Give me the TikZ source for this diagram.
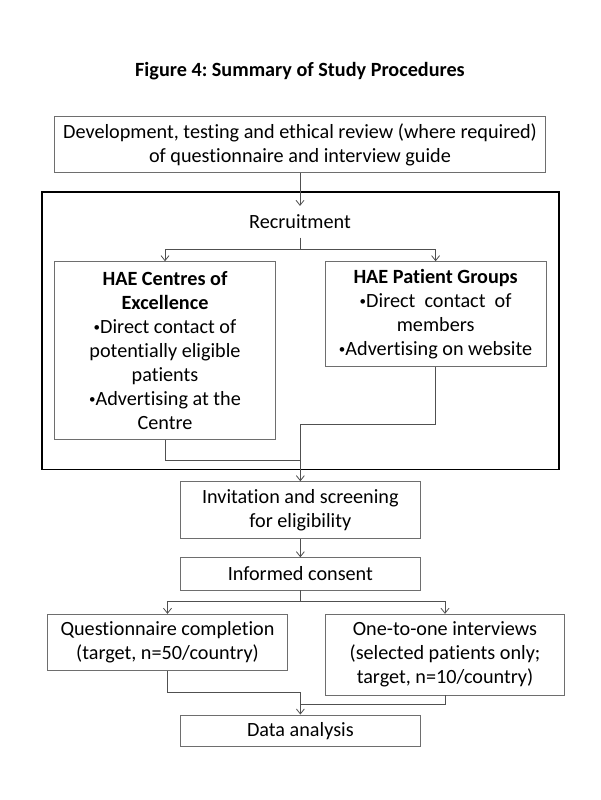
\documentclass[tikz,border=0pt]{standalone}
\usepackage{fontspec}
\setmainfont{Carlito}[Ligatures=NoCommon]
\usetikzlibrary{arrows.meta}
\frenchspacing
\definecolor{boxgray}{RGB}{110,110,110}
\definecolor{linegray}{RGB}{80,80,80}
\newcommand{\bul}{\raisebox{2pt}{\fontsize{13}{13}\selectfont •}}
\tikzset{
  txt/.style={font=\fontsize{20.2}{24}\selectfont, align=center, inner sep=0pt},
  box/.style={txt, draw=boxgray, line width=0.9pt, rectangle},
  conn/.style={draw=linegray, line width=0.8pt},
  arr/.style={conn, -{Straight Barb[length=5pt,width=8pt,line width=0.8pt]}},
}
\begin{document}
\begin{tikzpicture}[x=1pt,y=-1pt]
\useasboundingbox (0,0) rectangle (600,800);
\fill[white] (0,0) rectangle (600,800);

\node[txt, font=\fontsize{20.2}{24}\selectfont\bfseries] (title) at (300,70.7) {Figure 4: Summary of Study Procedures};

\node[box, minimum width=491.4pt, minimum height=56.7pt] (dev) at (300,144.35)
  {Development, testing and ethical review (where required)\\ of questionnaire and interview guide};

\node[draw=black, line width=1.8pt, minimum width=517pt, minimum height=277.8pt, inner sep=0pt] (frame) at (300.2,330.6) {};

\node[txt, minimum height=31.2pt] (recr) at (300,221.7) {Recruitment};

\node[box, minimum width=220.3pt, minimum height=177.6pt] (cen) at (165,350.5)
  {\textbf{HAE Centres of}\\ \textbf{Excellence}\\ \bul Direct contact of\\ potentially eligible\\ patients\\ \bul Advertising at the\\ Centre};

\node[box, minimum width=221.1pt, minimum height=105pt] (pg) at (435.6,314.2)
  {\textbf{HAE Patient Groups}\\ \bul Direct\ \ contact\ \ of\\ members\\ \bul Advertising on website};

\node[box, minimum width=239.3pt, minimum height=56.6pt] (inv) at (300.35,510)
  {Invitation and screening\\ for eligibility};

\node[box, minimum width=239.3pt, minimum height=32.3pt] (cons) at (300.35,573.85)
  {Informed consent};

\node[box, minimum width=239.2pt, minimum height=56.4pt] (qc) at (167.5,642.5)
  {Questionnaire completion\\ (target, n=50/country)};

\node[box, minimum width=239.2pt, minimum height=80.7pt] (oi) at (445,654.65)
  {One-to-one interviews\\ (selected patients only;\\ target, n=10/country)};

\node[box, minimum width=239.3pt, minimum height=31.7pt] (data) at (300.35,730.85)
  {Data analysis};

\coordinate (rb) at (300,249);
\coordinate (j1) at (300.35,460.7);
\coordinate (j2) at (300.35,424);
\coordinate (cb) at (300.35,601.7);
\coordinate (j3) at (300.35,692.7);
\coordinate (j4) at (300.35,704.3);

\draw[arr] (dev.south) -- (recr.north);
\draw[conn] (recr.south) -- (rb);
\draw[arr] (rb) -| (cen.north);
\draw[arr] (rb) -| (pg.north);
\draw[conn] (cen.south) |- (j1);
\draw[arr] (pg.south) |- (j2) -- (inv.north);
\draw[arr] (inv.south) -- (cons.north);
\draw[conn] (cons.south) -- (cb);
\draw[arr] (cb) -| (qc.north);
\draw[arr] (cb) -| (oi.north);
\draw[arr] (qc.south) |- (j3) -- (data.north);
\draw[conn] (oi.south) |- (j4);
\end{tikzpicture}
\end{document}
